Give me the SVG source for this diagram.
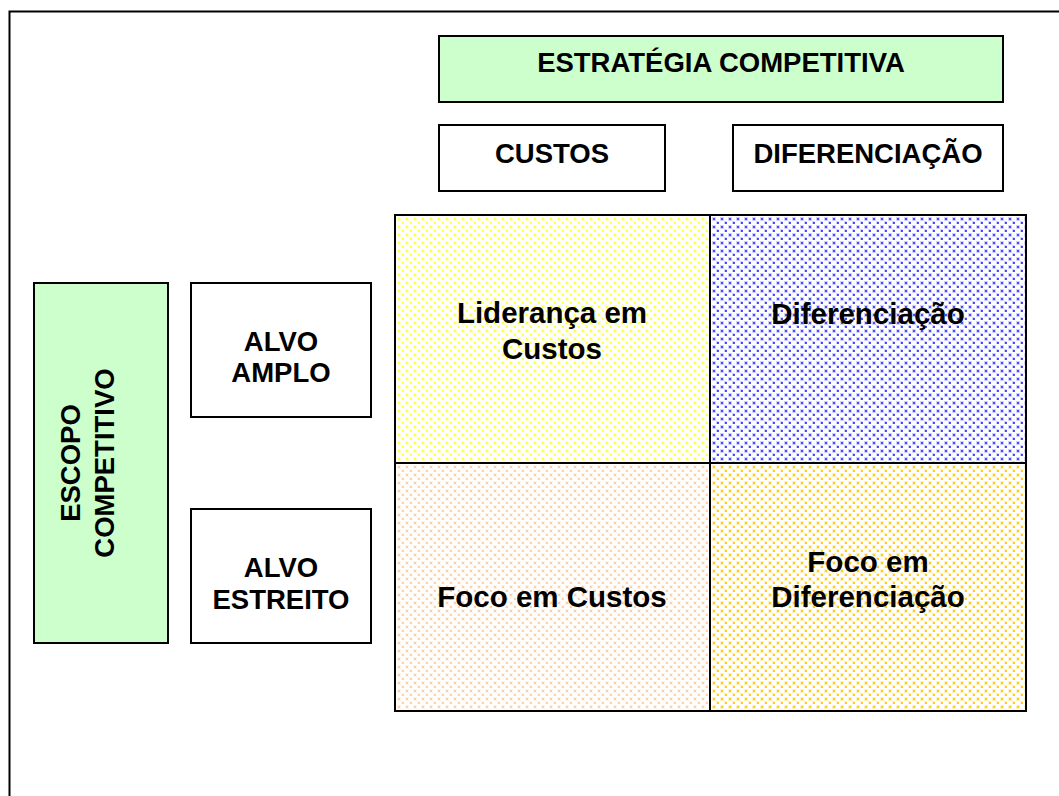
<svg xmlns="http://www.w3.org/2000/svg" width="1059" height="796" viewBox="0 0 1059 796">
<style>
.box{stroke:#000;stroke-width:2}
.green{fill:#ccffcc}
.white{fill:#fff}
.h{font-family:"Liberation Sans",Arial,sans-serif;font-weight:bold;font-size:27.5px;fill:#000;text-anchor:middle}
.q{font-family:"Liberation Sans",Arial,sans-serif;font-weight:bold;font-size:29.5px;fill:#000;text-anchor:middle}
</style>
<defs>
<pattern id="pY" width="8" height="8" patternUnits="userSpaceOnUse" x="396" y="216">
<rect width="8" height="8" fill="#fff"/>
<rect x="1" y="1" width="4" height="4" fill="#ffffc8"/><rect x="2" y="2" width="2" height="2" fill="#ffff44"/>
<rect x="5" y="5" width="4" height="4" fill="#ffffc8"/><rect x="6" y="6" width="2" height="2" fill="#ffff44"/>
</pattern>
<pattern id="pB" width="8" height="8" patternUnits="userSpaceOnUse" x="711" y="216">
<rect width="8" height="8" fill="#fff"/>
<rect x="1" y="1" width="4" height="4" fill="#d0d0ff"/><rect x="2" y="2" width="2" height="2" fill="#4a4aff"/>
<rect x="5" y="5" width="4" height="4" fill="#d0d0ff"/><rect x="6" y="6" width="2" height="2" fill="#4a4aff"/>
</pattern>
<pattern id="pP" width="8" height="8" patternUnits="userSpaceOnUse" x="396" y="464">
<rect width="8" height="8" fill="#fff"/>
<rect x="1" y="1" width="4" height="4" fill="#fff2e6"/><rect x="2" y="2" width="2" height="2" fill="#ffd0a8"/>
<rect x="5" y="5" width="4" height="4" fill="#fff2e6"/><rect x="6" y="6" width="2" height="2" fill="#ffd0a8"/>
</pattern>
<pattern id="pG" width="8" height="8" patternUnits="userSpaceOnUse" x="711" y="464">
<rect width="8" height="8" fill="#fff"/>
<rect x="1" y="1" width="4" height="4" fill="#fff0c0"/><rect x="2" y="2" width="2" height="2" fill="#ffcc22"/>
<rect x="5" y="5" width="4" height="4" fill="#fff0c0"/><rect x="6" y="6" width="2" height="2" fill="#ffcc22"/>
</pattern>
</defs>
<rect x="0" y="0" width="1059" height="796" fill="#fff"/>
<rect id="frame" x="9.5" y="11.5" width="1100" height="900" fill="none" stroke="#000" stroke-width="2"/>

<g id="title">
<rect class="box green" x="439" y="36" width="564" height="66"/>
<text class="h" x="721" y="72">ESTRATÉGIA COMPETITIVA</text>
</g>
<g id="custos">
<rect class="box white" x="439" y="125" width="226" height="66"/>
<text class="h" x="552" y="163">CUSTOS</text>
</g>
<g id="diferenciacao">
<rect class="box white" x="733" y="125" width="270" height="66"/>
<text class="h" x="868" y="163">DIFERENCIAÇÃO</text>
</g>
<g id="escopo">
<rect class="box green" x="34" y="283" width="134" height="360"/>
<text class="h" transform="translate(80,463) rotate(-90)" x="0" y="0">ESCOPO</text>
<text class="h" transform="translate(114,463) rotate(-90)" x="0" y="0">COMPETITIVO</text>
</g>
<g id="alvo-amplo">
<rect class="box white" x="191" y="283" width="180" height="134"/>
<text class="h" x="281" y="351">ALVO</text>
<text class="h" x="281" y="382">AMPLO</text>
</g>
<g id="alvo-estreito">
<rect class="box white" x="191" y="509" width="180" height="134"/>
<text class="h" x="281" y="577">ALVO</text>
<text class="h" x="281" y="609">ESTREITO</text>
</g>
<g id="q-lideranca">
<rect class="box" fill="url(#pY)" x="395" y="215" width="315" height="248"/>
<text class="q" x="552" y="323">Liderança em</text>
<text class="q" x="552" y="359">Custos</text>
</g>
<g id="q-diferenciacao">
<rect class="box" fill="url(#pB)" x="710" y="215" width="316" height="248"/>
<text class="q" x="868" y="324">Diferenciação</text>
</g>
<g id="q-foco-custos">
<rect class="box" fill="url(#pP)" x="395" y="463" width="315" height="248"/>
<text class="q" x="552" y="607">Foco em Custos</text>
</g>
<g id="q-foco-dif">
<rect class="box" fill="url(#pG)" x="710" y="463" width="316" height="248"/>
<text class="q" x="868" y="572">Foco em</text>
<text class="q" x="868" y="607">Diferenciação</text>
</g>
<g id="connectors"></g>
</svg>
